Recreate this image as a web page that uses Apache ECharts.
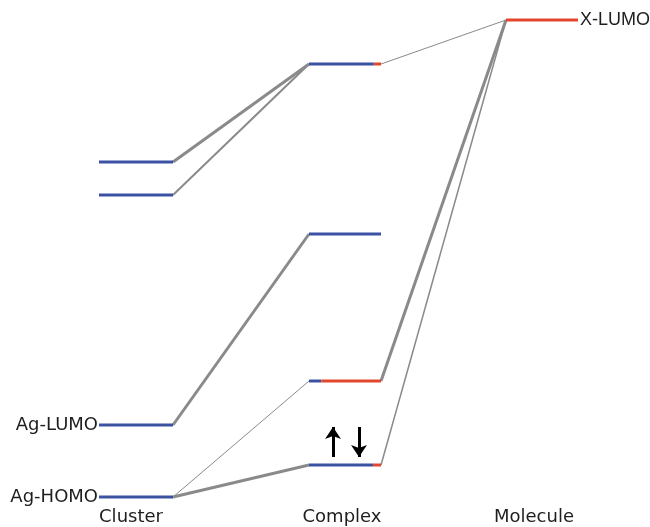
<!DOCTYPE html>
<html>
<head>
<meta charset="utf-8">
<style>
  html, body { margin: 0; padding: 0; background: #ffffff; }
  #chart { width: 650px; height: 527px; }
</style>
<script src="https://cdn.jsdelivr.net/npm/echarts@6/dist/echarts.min.js"></script>
</head>
<body>
<div id="chart"></div>
<script>
// Orbital energy levels (arbitrary units, higher = less bound)
const clusterEnergies = [365, 332, 102, 30];
const complexEnergies = [463, 293, 146, 62];
const moleculeEnergies = [507];

// Fraction of Ag (cluster) character in each complex orbital
const complexAgFraction = [0.9, 1.0, 0.17, 0.89];

// Column titles and level labels
const columnNames = ['Cluster', 'Complex', 'Molecule'];
const clusterLabels = ['', '', 'Ag-LUMO', 'Ag-HOMO'];
const moleculeLabels = ['X-LUMO'];

// Correlation lines: [from column, from level, to column, to level, weight]
const correlations = [
  [0, 0, 1, 0, 3],
  [0, 1, 1, 0, 2],
  [0, 2, 1, 1, 3],
  [0, 3, 1, 2, 1],
  [0, 3, 1, 3, 3],
  [1, 0, 2, 0, 1],
  [1, 2, 2, 0, 3],
  [1, 3, 2, 0, 1.5]
];

// Electron spins in the complex HOMO: +1 up, -1 down
const homoSpins = [1, -1];

// Layout of the three columns on the horizontal axis
const columns = [
  { x0: 99, x1: 173, title: 131 },
  { x0: 309, x1: 381, title: 342 },
  { x0: 506, x1: 578, title: 534 }
];
const energies = [clusterEnergies, complexEnergies, moleculeEnergies];

const BLUE = '#3b52a3';
const RED = '#e2462d';
const GREY = '#8a8a8a';
const TEXT = '#1e1e1e';
const LEVEL_W = 3;

const series = [];

// connectors first so levels sit on top
series.push({
  type: 'lines',
  coordinateSystem: 'cartesian2d',
  silent: true,
  z: 1,
  data: correlations.map(([c0, l0, c1, l1, w]) => ({
    coords: [[columns[c0].x1, energies[c0][l0]], [columns[c1].x0, energies[c1][l1]]],
    lineStyle: { width: w, color: GREY, opacity: 1 }
  }))
});

function levelSeg(x0, x1, y, color, label, labelPos) {
  const s = {
    type: 'line',
    silent: true,
    z: 3,
    symbol: 'none',
    lineStyle: { color: color, width: LEVEL_W },
    data: [[x0, y], [x1, y]]
  };
  if (label) {
    s.symbol = 'circle';
    s.symbolSize = 0;
    s.showSymbol = true;
    const left = labelPos === 'left';
    const idx = left ? 0 : 1;
    s.data = s.data.map((p, i) => i === idx ? {
      value: p,
      label: {
        show: true, position: labelPos, distance: left ? 1 : 2, formatter: label,
        color: TEXT,
        fontFamily: left ? 'DejaVu Sans' : 'Liberation Sans',
        fontSize: 18
      }
    } : p);
  }
  return s;
}

// cluster levels (pure Ag)
clusterEnergies.forEach((e, i) => {
  series.push(levelSeg(columns[0].x0, columns[0].x1, e, BLUE, clusterLabels[i], 'left'));
});

// complex levels, split into Ag (blue) and molecular (red) character
complexEnergies.forEach((e, i) => {
  const c = columns[1];
  const xm = c.x0 + (c.x1 - c.x0) * complexAgFraction[i];
  series.push(levelSeg(c.x0, xm, e, BLUE));
  if (complexAgFraction[i] < 1) series.push(levelSeg(xm, c.x1, e, RED));
});

// molecule levels
moleculeEnergies.forEach((e, i) => {
  series.push(levelSeg(columns[2].x0, columns[2].x1, e, RED, moleculeLabels[i], 'right'));
});

// spin arrows on the complex HOMO
const spinX = [333, 359];
const spinLow = complexEnergies[3] + 8;
const spinHigh = complexEnergies[3] + 38;
series.push({
  type: 'lines',
  coordinateSystem: 'cartesian2d',
  silent: true,
  z: 4,
  symbol: ['none', 'arrow'],
  symbolSize: [12, 12],
  data: homoSpins.map((s, i) => ({
    coords: s > 0 ? [[spinX[i], spinLow], [spinX[i], spinHigh]] : [[spinX[i], spinHigh], [spinX[i], spinLow]],
    lineStyle: { width: 3, color: '#000000', opacity: 1 }
  }))
});

const chart = echarts.init(document.getElementById('chart'), null, { renderer: 'canvas' });
chart.setOption({
  backgroundColor: '#ffffff',
  animation: false,
  grid: { left: 0, right: 0, top: 0, bottom: 0 },
  xAxis: { type: 'value', min: 0, max: 650, show: false },
  yAxis: { type: 'value', min: 0, max: 527, show: false },
  graphic: columnNames.map((name, i) => ({
    type: 'text',
    x: columns[i].title,
    y: 508,
    style: {
      text: name, fill: TEXT, font: '18px "DejaVu Sans"',
      align: 'center', verticalAlign: 'top'
    }
  })),
  series: series
});
</script>
</body>
</html>
